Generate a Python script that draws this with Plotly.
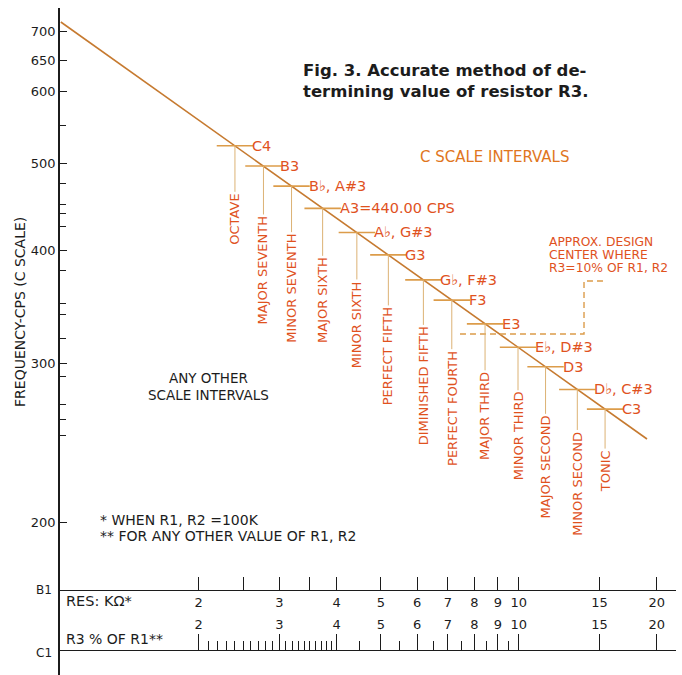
import math
import plotly.graph_objects as go

# C-scale notes, the interval each one makes with C3, and where they sit on the chart
notes = ["C4", "B3", "B♭, A#3", "A3=440.00 CPS", "A♭, G#3", "G3", "G♭, F#3",
         "F3", "E3", "E♭, D#3", "D3", "D♭, C#3", "C3"]
intervals = ["OCTAVE", "MAJOR SEVENTH", "MINOR SEVENTH", "MAJOR SIXTH", "MINOR SIXTH",
             "PERFECT FIFTH", "DIMINISHED FIFTH", "PERFECT FOURTH", "MAJOR THIRD",
             "MINOR THIRD", "MAJOR SECOND", "MINOR SECOND", "TONIC"]
note_res = [2.40, 2.77, 3.19, 3.73, 4.43, 5.19, 6.19, 7.14, 8.44, 9.96, 11.44, 13.42, 15.43]
note_freq = [522.6, 496.4, 471.5, 445.6, 419.0, 395.7, 371.3, 352.6, 331.9, 312.7, 297.5, 280.8, 267.1]

# the ruled line and the design-centre bracket
line_res = [1.0, 19.05]
line_freq = [716.5, 247.5]
bracket_res = [7.44, 13.88, 13.88, 15.3]
bracket_freq = [323.5, 323.5, 370.3, 370.3]

# axes
freq_ticks = [200, 300, 400, 500, 600, 650, 700]
freq_minor = [250, 260, 270, 290, 320, 340, 350, 380, 425, 440, 450, 475, 550]
b1_ticks = [2, 2.5, 3, 3.5, 4, 5, 6, 7, 8, 9, 10, 15, 20]
b1_labels = ["2", "", "3", "", "4", "5", "6", "7", "8", "9", "10", "15", "20"]
c1_ticks = [2, 3, 4, 5, 6, 7, 8, 9, 10, 15, 20]
c1_minor = [2.1, 2.2, 2.3, 2.4, 2.5, 2.6, 2.7, 2.8, 2.9,
            3.1, 3.2, 3.3, 3.4, 3.5, 3.6, 3.7, 3.8, 3.9,
            4.5, 5.5, 6.5, 7.5, 8.5, 9.5]

# drop from each note down to the centre of its interval label, in px
drops = [73, 104, 102, 92, 92, 101, 106, 108, 92, 89, 100, 94, 62]

W, H = 682, 675
L, R, T, B = 60, 6, 8, 0
FONT = "DejaVu Sans"
INK = "#1c1c1c"
RED = "#e0521e"
ORANGE = "#e0761e"
LINE = "#c67a30"
BAR = "#dc9c4a"
DROP = "#dcb274"


def px(x):
    return (x - L) / (W - L - R)


def py(y):
    return (H - B - y) / (H - T - B)


fig = go.Figure()

fig.add_trace(go.Scatter(x=line_res, y=line_freq, mode="lines",
                         line=dict(color=LINE, width=1.6), hoverinfo="skip"))
fig.add_trace(go.Scatter(x=bracket_res, y=bracket_freq, mode="lines",
                         line=dict(color=BAR, width=1.4, dash="6px,4px"), hoverinfo="skip"))
fig.add_trace(go.Scatter(x=note_res, y=note_freq, mode="markers",
                         marker=dict(symbol="line-ew", size=26,
                                     line=dict(color=BAR, width=1.6)),
                         hoverinfo="skip"))
# empty traces so the two resistance scales get drawn
fig.add_trace(go.Scatter(x=[2, 20], y=[None, None], xaxis="x2", hoverinfo="skip"))
fig.add_trace(go.Scatter(x=[2, 20], y=[None, None], xaxis="x3", hoverinfo="skip"))

ann = []
for name, iv, r, f, d in zip(notes, intervals, note_res, note_freq, drops):
    lx, ly = math.log10(r), math.log10(f)
    ann.append(dict(x=lx, y=ly, xref="x", yref="y", text=name, showarrow=False,
                    xanchor="left", xshift=15, font=dict(size=14.5, color=RED)))
    ann.append(dict(x=lx, y=ly, xref="x", yref="y", text=iv, textangle=-90,
                    showarrow=True, arrowhead=0, arrowwidth=1, arrowcolor=DROP,
                    ax=0, ay=d, font=dict(size=13, color=RED)))


def note(x, y, text, size=14, color=INK, anchor="left", angle=0, **kw):
    ann.append(dict(x=px(x), y=py(y), xref="paper", yref="paper", text=text,
                    showarrow=False, xanchor=anchor, yanchor="middle", textangle=angle,
                    font=dict(family=FONT, size=size, color=color), **kw))


note(301, 70, "<b>Fig. 3. Accurate method of de-</b>", size=16.5)
note(301, 92, "<b>termining value of resistor R3.</b>", size=16.5)
note(418, 157, "C SCALE INTERVALS", size=15, color=ORANGE)
note(547, 242, "APPROX. DESIGN", size=12.3, color=RED)
note(547, 255, "CENTER WHERE", size=12.3, color=RED)
note(547, 268, "R3=10% OF R1, R2", size=12.3, color=RED)
note(208, 378, "ANY OTHER", size=13.5, anchor="center")
note(208, 395, "SCALE INTERVALS", size=13.5, anchor="center")
note(98, 520, "* WHEN R1, R2 =100K")
note(98, 536, "** FOR ANY OTHER VALUE OF R1, R2")
note(20, 312, "FREQUENCY-CPS (C SCALE)", size=14, anchor="center", angle=-90)
note(44, 590, "B1", size=12, anchor="center")
note(44, 653, "C1", size=12, anchor="center")
note(64, 601, "RES: KΩ*", size=14.5)
note(64, 639, "R3 % OF R1**", size=14)

xrange = [(L - 60.8) / 458, (W - R - 60.8) / 458]
yrange = [2.6451 - (H - B - 211.8) / 903.3, 2.6451 + (211.8 - T) / 903.3]

fig.update_layout(
    width=W, height=H, margin=dict(l=L, r=R, t=T, b=B),
    paper_bgcolor="white", plot_bgcolor="white", showlegend=False,
    font=dict(family=FONT, size=13, color=INK),
    annotations=ann,
    xaxis=dict(type="log", range=xrange, visible=False),
    xaxis2=dict(type="log", range=xrange, overlaying="x", anchor="free",
                position=py(590), side="bottom", showline=True, linecolor=INK,
                linewidth=1.3, ticks="inside", ticklen=13, tickcolor=INK,
                tickvals=b1_ticks, ticktext=b1_labels, showgrid=False,
                zeroline=False, tickfont=dict(size=13)),
    xaxis3=dict(type="log", range=xrange, overlaying="x", anchor="free",
                position=py(650), side="top", showline=True, linecolor=INK,
                linewidth=1.3, ticks="outside", ticklen=16, tickcolor=INK,
                tickvals=c1_ticks, ticktext=[str(v) for v in c1_ticks],
                minor=dict(ticks="outside", ticklen=9, tickcolor=INK,
                           tickvals=c1_minor),
                showgrid=False, zeroline=False, tickfont=dict(size=13)),
    yaxis=dict(type="log", range=yrange, showline=True, linecolor=INK, linewidth=1.5,
               ticks="inside", ticklen=7, tickcolor=INK, tickvals=freq_ticks,
               ticktext=[str(v) for v in freq_ticks],
               minor=dict(ticks="inside", ticklen=6, tickcolor=INK, tickvals=freq_minor),
               showgrid=False, zeroline=False, tickfont=dict(size=13)),
)

fig.write_html("out.html", config={"displayModeBar": False},
               post_script="document.body.style.margin='0';")
